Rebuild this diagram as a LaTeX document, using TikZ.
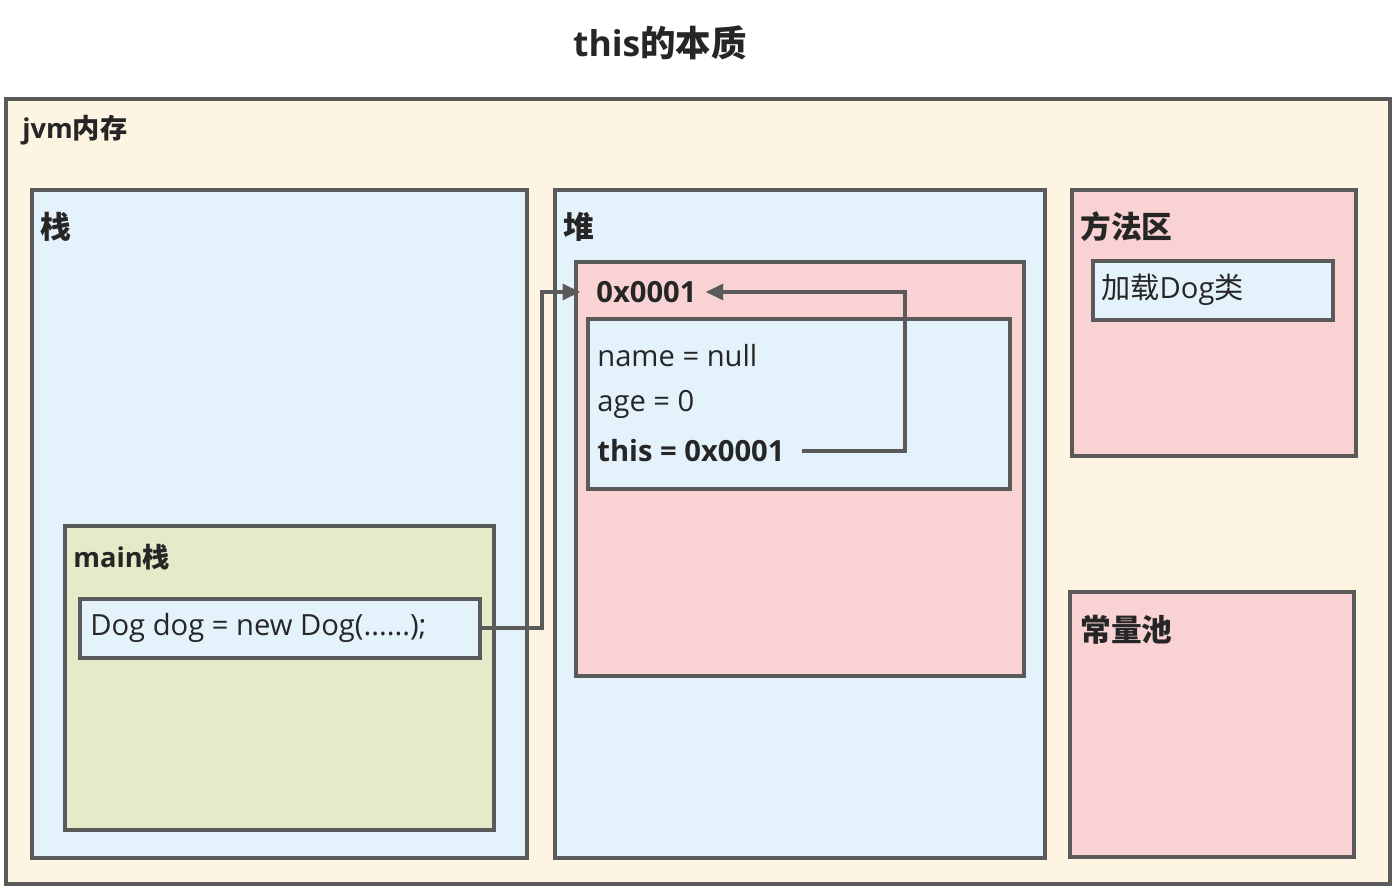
\documentclass[tikz,border=0pt]{standalone}
\usepackage{fontspec}
\setmainfont{Open Sans}
\newfontfamily\cjk{Noto Sans CJK SC}
\usetikzlibrary{arrows.meta}
\definecolor{jvmbg}{HTML}{FDF5E1}
\definecolor{areabg}{HTML}{E3F2FB}
\definecolor{objbg}{HTML}{F9D3D3}
\definecolor{framebg}{HTML}{E5EBC8}
\definecolor{edge}{HTML}{5A5A5A}
\definecolor{ink}{HTML}{262626}
\tikzset{
  area/.style={draw=edge, line width=2.2pt},
  head/.style={anchor=west, inner sep=0pt, text=ink, font=\fontsize{17.5}{21}\selectfont\bfseries},
  small head/.style={head, font=\fontsize{15.5}{18}\selectfont\bfseries},
  field/.style={anchor=west, inner sep=0pt, text=ink, font=\fontsize{16.6}{20}\selectfont},
  bold field/.style={field, font=\fontsize{16.6}{20}\selectfont\bfseries},
  link/.style={draw=edge, line width=2.2pt, -{Triangle[length=10pt, width=9pt]}},
}
\begin{document}
\begin{tikzpicture}[x=0.02cm, y=-0.02cm]
    \useasboundingbox (0,0) rectangle (1396,888);
    \node[text=ink, font=\fontsize{20.2}{24}\selectfont\bfseries] (title) at (660,43) {this{\cjk 的本质}};
    \begin{scope}
      \draw[area, fill=jvmbg]   (6,99)     rectangle (1390,884);
      \draw[area, fill=areabg]  (32,190)   rectangle (527,858);
      \draw[area, fill=framebg] (65,526)   rectangle (494,830);
      \draw[area, fill=areabg]  (80,599)   rectangle (480,658);
      \draw[area, fill=areabg]  (555,190)  rectangle (1045,858);
      \draw[area, fill=objbg]   (576,262)  rectangle (1024,676);
      \draw[area, fill=areabg]  (588,319)  rectangle (1010,489);
      \draw[area, fill=objbg]   (1072,190) rectangle (1356,456);
      \draw[area, fill=areabg]  (1093,261) rectangle (1333,320);
      \draw[area, fill=objbg]   (1070,592) rectangle (1354,857);
      \node[small head] (jvm)     at (22,130)   {jvm{\cjk 内存}};
      \node[head]       (stack)   at (40,227)   {\cjk 栈};
      \node[small head] (mainfr)  at (73,557)   {main{\cjk 栈}};
      \node[field]      (dogline) at (90,628)   {Dog dog = new Dog(......);};
      \node[head]       (heap)    at (563,227)  {\cjk 堆};
      \node[bold field] (addr)    at (596,292)  {0x0001};
      \node[field]      (name)    at (597,356)  {name = null};
      \node[field]      (age)     at (597,404)  {age = 0};
      \node[bold field] (thisref) at (597,451)  {this = 0x0001};
      \node[head]       (method)  at (1080,227) {\cjk 方法区};
      \node[field]      (dogcls)  at (1101,290) {{\cjk 加载}Dog{\cjk 类}};
      \node[head]       (pool)    at (1080,630) {\cjk 常量池};
    \end{scope}
    \draw[link] (480,628) -- (542,628) |- ([xshift=-9pt]addr.west);
    \draw[link] ([xshift=10pt]thisref.east) -- (905,451) |- ([xshift=5pt]addr.east);
  \end{tikzpicture}
\end{document}
